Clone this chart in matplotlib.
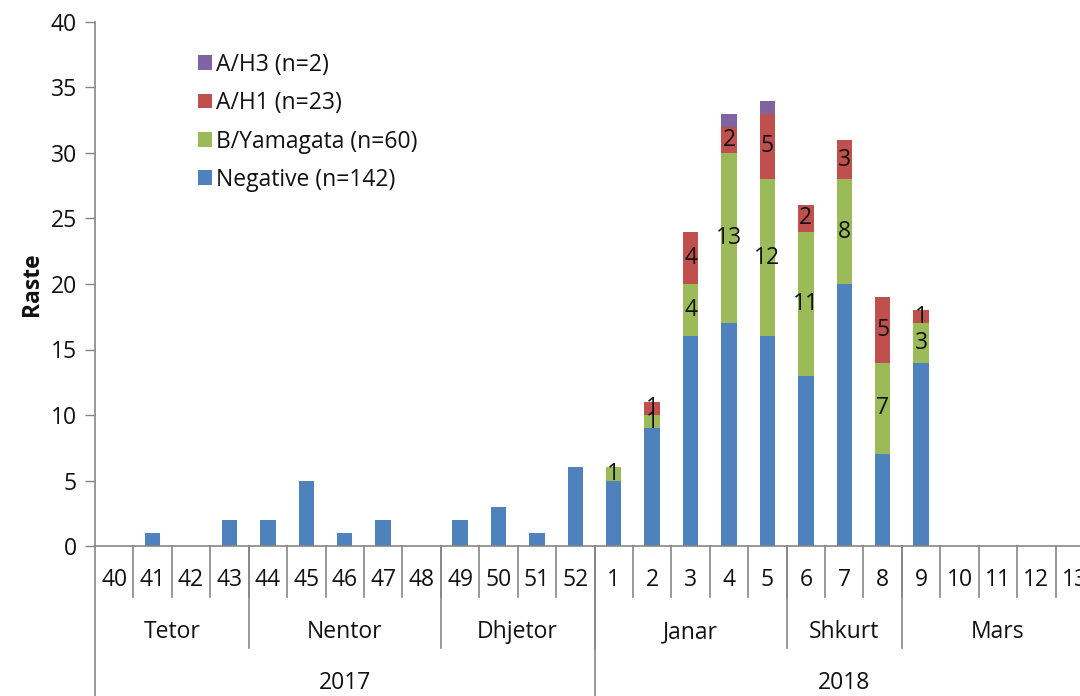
import matplotlib
matplotlib.use("Agg")
import matplotlib.pyplot as plt
import numpy as np

plt.rcParams['font.family'] = ['Open Sans', 'DejaVu Sans']

weeks = ['40', '41', '42', '43', '44', '45', '46', '47', '48', '49', '50', '51', '52',
         '1', '2', '3', '4', '5', '6', '7', '8', '9', '10', '11', '12', '13']
negative = [0, 1, 0, 2, 2, 5, 1, 2, 0, 2, 3, 1, 6,
            5, 9, 16, 17, 16, 13, 20, 7, 14, 0, 0, 0, 0]
b_yamagata = [0, 0, 0, 0, 0, 0, 0, 0, 0, 0, 0, 0, 0,
              1, 1, 4, 13, 12, 11, 8, 7, 3, 0, 0, 0, 0]
a_h1 = [0, 0, 0, 0, 0, 0, 0, 0, 0, 0, 0, 0, 0,
        0, 1, 4, 2, 5, 2, 3, 5, 1, 0, 0, 0, 0]
a_h3 = [0, 0, 0, 0, 0, 0, 0, 0, 0, 0, 0, 0, 0,
        0, 0, 0, 1, 1, 0, 0, 0, 0, 0, 0, 0, 0]
series_names = ['Negative (n=142)', 'B/Yamagata (n=60)', 'A/H1 (n=23)', 'A/H3 (n=2)']
months = ['Tetor', 'Nentor', 'Dhjetor', 'Janar', 'Shkurt', 'Mars']
month_weeks = [4, 5, 4, 5, 3, 5]
years = ['2017', '2018']
year_weeks = [13, 13]

colors = ['#4F81BD', '#9BBB59', '#C0504D', '#8064A2']
axis_col = '#868686'
txt_col = '#111111'
FS = 16.5

W, H = 1080, 696
fig = plt.figure(figsize=(W / 100, H / 100), dpi=100)
ax_left, ax_right, ax_top, ax_bot = 95, 1094, 22, 546
ax = fig.add_axes([ax_left / W, (H - ax_bot) / H, (ax_right - ax_left) / W, (ax_bot - ax_top) / H])

x = np.arange(len(weeks))
bottom = np.zeros(len(weeks))
containers = []
for vals, col, name in zip([negative, b_yamagata, a_h1, a_h3], colors, series_names):
    v = np.array(vals, dtype=float)
    c = ax.bar(x, v, 0.4, bottom=bottom, color=col, label=name, zorder=2)
    containers.append((c, vals))
    bottom += v

for c, vals in containers[1:3]:
    ax.bar_label(c, labels=[str(v) if v else '' for v in vals], label_type='center',
                 fontsize=FS, color=txt_col)

ax.set_xlim(-0.5, len(weeks) - 0.5)
ax.set_ylim(0, 40)
ax.set_yticks(range(0, 41, 5))
ax.tick_params(axis='y', length=7, width=1, color=axis_col, labelsize=FS, labelcolor=txt_col, pad=6)
ax.set_xticks([])
for s in ['top', 'right']:
    ax.spines[s].set_visible(False)
for s in ['left', 'bottom']:
    ax.spines[s].set_color(axis_col)
    ax.spines[s].set_linewidth(1.2)
ax.set_ylabel('Raste', fontsize=FS, fontweight='bold', color=txt_col, labelpad=5)

# multi-level category axis
tr = ax.get_xaxis_transform()
ah = ax_bot - ax_top
def fy(py):
    return (ax_bot - py) / ah

y_week_line, y_month_line, y_year_line = fy(597), fy(648), fy(696)
for i, w in enumerate(weeks):
    ax.text(i, fy(580), w, transform=tr, ha='center', va='center', fontsize=FS, color=txt_col)
for k in range(1, len(weeks)):
    ax.plot([k - 0.5, k - 0.5], [0, y_week_line], transform=tr, color=axis_col, lw=1.2, clip_on=False)
start = 0
for m, n in zip(months, month_weeks):
    ax.text(start + n / 2 - 0.5, fy(632), m, transform=tr, ha='center', va='center', fontsize=FS, color=txt_col)
    start += n
    ax.plot([start - 0.5, start - 0.5], [0, y_month_line], transform=tr, color=axis_col, lw=1.2, clip_on=False)
start = 0
for yname, n in zip(years, year_weeks):
    ax.text(start + n / 2 - 0.5, fy(683), yname, transform=tr, ha='center', va='center', fontsize=FS, color=txt_col)
    start += n
    ax.plot([start - 0.5, start - 0.5], [0, y_year_line], transform=tr, color=axis_col, lw=1.2, clip_on=False)
ax.plot([-0.5, -0.5], [0, y_year_line], transform=tr, color=axis_col, lw=1.2, clip_on=False)

handles, labels = ax.get_legend_handles_labels()
leg = ax.legend(handles[::-1], labels[::-1], loc='upper left',
                bbox_to_anchor=(177 / W, (H - 32) / H), bbox_transform=fig.transFigure,
                frameon=False, fontsize=FS, handlelength=0.62, handleheight=0.62,
                handletextpad=0.2, labelspacing=0.63)
for t in leg.get_texts():
    t.set_color(txt_col)

fig.savefig('out.png', dpi=100)
